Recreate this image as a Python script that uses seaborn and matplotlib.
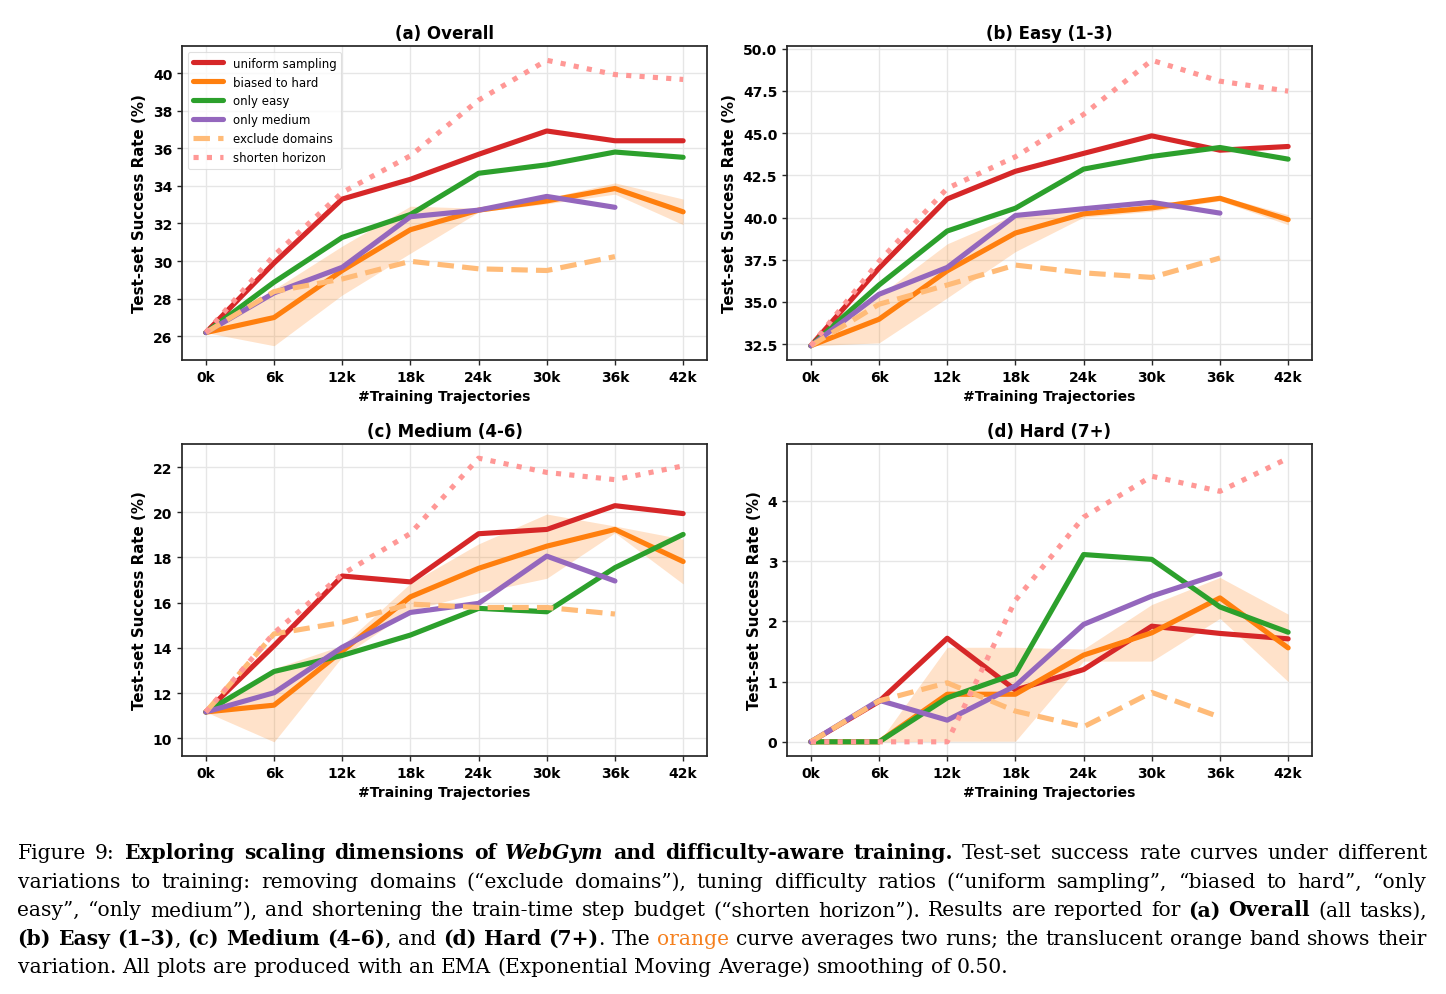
import numpy as np
import pandas as pd
import matplotlib
matplotlib.use("Agg")
import matplotlib.pyplot as plt
import seaborn as sns
from matplotlib.lines import Line2D
from matplotlib.ticker import MultipleLocator, FormatStrFormatter

# ---------------- data ----------------
steps = [0, 6, 12, 18, 24, 30, 36, 42]
step_labels = ["0k", "6k", "12k", "18k", "24k", "30k", "36k", "42k"]
methods = ["uniform sampling", "biased to hard", "only easy", "only medium",
           "exclude domains", "shorten horizon"]
method_colors = ["#d62728", "#ff7f0e", "#2ca02c", "#9467bd", "#ffbb78", "#ff9896"]

# (a) Overall
overall_uniform = [26.2, 29.9, 33.3, 34.35, 35.68, 36.92, 36.4, 36.4]
overall_biased = [26.2, 27.0, 29.5, 31.67, 32.71, 33.2, 33.86, 32.62]
overall_biased_spread = [0.0, 1.5, 1.3, 1.25, 0.1, 0.15, 0.3, 0.68]
overall_easy = [26.2, 28.88, 31.26, 32.48, 34.67, 35.12, 35.8, 35.52]
overall_medium = [26.2, 28.31, 29.67, 32.36, 32.71, 33.44, 32.86]
overall_exclude = [26.2, 28.38, 29.05, 29.99, 29.59, 29.5, 30.24]
overall_shorten = [26.2, 30.3, 33.65, 35.6, 38.56, 40.68, 39.92, 39.66]

# (b) Easy (1-3)
easy_uniform = [32.4, 37.0, 41.1, 42.74, 43.8, 44.84, 43.99, 44.21]
easy_biased = [32.4, 33.97, 36.84, 39.08, 40.22, 40.57, 41.14, 39.87]
easy_biased_spread = [0.0, 1.4, 1.6, 1.1, 0.2, 0.2, 0.15, 0.3]
easy_easy = [32.4, 36.0, 39.2, 40.55, 42.87, 43.62, 44.15, 43.46]
easy_medium = [32.4, 35.45, 37.04, 40.12, 40.52, 40.9, 40.26]
easy_exclude = [32.4, 34.86, 36.0, 37.18, 36.72, 36.45, 37.6]
easy_shorten = [32.4, 37.4, 41.73, 43.6, 46.11, 49.32, 48.08, 47.49]

# (c) Medium (4-6)
medium_uniform = [11.17, 14.1, 17.18, 16.92, 19.05, 19.24, 20.29, 19.94]
medium_biased = [11.17, 11.47, 13.86, 16.26, 17.52, 18.5, 19.24, 17.82]
medium_biased_spread = [0.0, 1.62, 0.25, 0.6, 1.08, 1.42, 0.15, 0.99]
medium_easy = [11.17, 12.96, 13.67, 14.57, 15.75, 15.6, 17.55, 19.02]
medium_medium = [11.17, 12.02, 14.03, 15.57, 15.97, 18.06, 16.96]
medium_exclude = [11.17, 14.62, 15.13, 15.94, 15.79, 15.79, 15.5]
medium_shorten = [11.17, 14.66, 17.26, 19.06, 22.39, 21.76, 21.44, 22.05]

# (d) Hard (7+)
hard_uniform = [0.0, 0.67, 1.72, 0.86, 1.2, 1.92, 1.8, 1.71]
hard_biased = [0.0, 0.0, 0.79, 0.79, 1.44, 1.81, 2.39, 1.56]
hard_biased_spread = [0.0, 0.0, 0.78, 0.78, 0.1, 0.47, 0.34, 0.56]
hard_easy = [0.0, 0.0, 0.73, 1.13, 3.11, 3.03, 2.24, 1.82]
hard_medium = [0.0, 0.69, 0.36, 0.93, 1.95, 2.42, 2.79]
hard_exclude = [0.0, 0.68, 0.98, 0.51, 0.25, 0.82, 0.41]
hard_shorten = [0.0, 0.0, 0.0, 2.35, 3.73, 4.41, 4.16, 4.71]

panel_titles = ["(a) Overall", "(b) Easy (1-3)", "(c) Medium (4-6)", "(d) Hard (7+)"]
x_label = "#Training Trajectories"
y_label = "Test-set Success Rate (%)"

panels = [
    (panel_titles[0], [overall_uniform, overall_biased, overall_easy, overall_medium,
                       overall_exclude, overall_shorten], overall_biased_spread, 2, "%d"),
    (panel_titles[1], [easy_uniform, easy_biased, easy_easy, easy_medium,
                       easy_exclude, easy_shorten], easy_biased_spread, 2.5, "%.1f"),
    (panel_titles[2], [medium_uniform, medium_biased, medium_easy, medium_medium,
                       medium_exclude, medium_shorten], medium_biased_spread, 2, "%d"),
    (panel_titles[3], [hard_uniform, hard_biased, hard_easy, hard_medium,
                       hard_exclude, hard_shorten], hard_biased_spread, 1, "%d"),
]

# ---------------- style ----------------
sns.set_theme(style="whitegrid", rc={
    "axes.edgecolor": "0.15",
    "axes.linewidth": 1.25,
    "grid.color": "0.9",
    "grid.linewidth": 1.0,
    "xtick.bottom": True,
    "ytick.left": True,
    "xtick.major.size": 3.5,
    "ytick.major.size": 3.5,
    "xtick.major.width": 1.0,
    "ytick.major.width": 1.0,
    "xtick.color": "0.15",
    "ytick.color": "0.15",
    "text.color": "black",
    "axes.labelcolor": "black",
})
plt.rcParams["font.family"] = ["DejaVu Sans"]

palette = dict(zip(methods, method_colors))
dash_map = {"uniform sampling": "", "biased to hard": "", "only easy": "",
            "only medium": "", "exclude domains": (3.2, 1.6), "shorten horizon": (1, 1.6)}
LW = 3.7

W, H = 1446, 995
fig = plt.figure(figsize=(W / 100, H / 100), dpi=100)

rects_px = [(182, 47, 707, 361), (787, 47, 1312, 361),
            (182, 445, 707, 757), (787, 445, 1312, 757)]

for (title, series, spread, ystep, yfmt), (l, t, r, b) in zip(panels, rects_px):
    ax = fig.add_axes([l / W, 1 - b / H, (r - l) / W, (b - t) / H])
    rows = []
    for m, vals in zip(methods, series):
        for s, v in zip(steps, vals):
            rows.append({"step": s, "rate": v, "method": m})
    df = pd.DataFrame(rows)
    biased = np.array(series[1])
    sp = np.array(spread)
    ax.fill_between(steps, biased - sp, biased + sp, color="#ff7f0e",
                    alpha=0.22, linewidth=0, zorder=1)
    sns.lineplot(data=df, x="step", y="rate", hue="method", style="method",
                 hue_order=methods, style_order=methods, palette=palette,
                 dashes=dash_map, linewidth=LW, legend=False, ax=ax,
                 errorbar=None, sort=False)
    ax.set_xticks(steps)
    ax.set_xticklabels(step_labels)
    ax.yaxis.set_major_locator(MultipleLocator(ystep))
    ax.yaxis.set_major_formatter(FormatStrFormatter(yfmt))
    for lbl in ax.get_xticklabels() + ax.get_yticklabels():
        lbl.set_fontweight("bold")
        lbl.set_fontsize(10)
        lbl.set_color("black")
    ax.set_title(title, fontsize=12, fontweight="bold", pad=6, color="black")
    ax.set_xlabel(x_label, fontsize=10, fontweight="bold", labelpad=4, color="black")
    ax.set_ylabel(y_label, fontsize=10.8, fontweight="bold", labelpad=4, color="black")
    for sp_ in ax.spines.values():
        sp_.set_visible(True)
        sp_.set_color("0.15")

    if title == panel_titles[0]:
        handles = []
        for m, c in zip(methods, method_colors):
            h = Line2D([0], [0], color=c, linewidth=LW)
            if dash_map[m]:
                h.set_dashes(dash_map[m])
            handles.append(h)
        leg = ax.legend(handles, methods, loc="upper left", fontsize=8.5,
                        handlelength=2.6, frameon=True, fancybox=True)
        leg.get_frame().set_edgecolor("0.85")
        leg.get_frame().set_linewidth(0.8)

# ---------------- caption ----------------
caption_lines = [
    [("Figure 9:", "n"), (" Exploring scaling dimensions of ", "b"), ("WebGym", "bi"),
     (" and difficulty-aware training.", "b"),
     (" Test-set success rate curves under different", "n")],
    [("variations to training: removing domains (\u201cexclude domains\u201d), tuning difficulty ratios "
      "(\u201cuniform sampling\u201d, \u201cbiased to hard\u201d, \u201conly", "n")],
    [("easy\u201d, \u201conly medium\u201d), and shortening the train-time step budget "
      "(\u201cshorten horizon\u201d). Results are reported for ", "n"), ("(a) Overall", "b"),
     (" (all tasks),", "n")],
    [("(b) Easy (1\u20133)", "b"), (", ", "n"), ("(c) Medium (4\u20136)", "b"), (", and ", "n"),
     ("(d) Hard (7+)", "b"), (". The ", "n"), ("orange", "o"),
     (" curve averages two runs; the translucent orange band shows their", "n")],
    [("variation. All plots are produced with an EMA (Exponential Moving Average) "
      "smoothing of 0.50.", "n")],
]
cap_family = "DejaVu Serif"
cap_size_max = 15.5
cap_left, cap_right = 17.5, 1427.0
cap_baselines = [859.5, 888.0, 916.3, 944.6, 973.0]
styles = {
    "n": dict(weight="normal", style="normal", color="black"),
    "b": dict(weight="bold", style="normal", color="black"),
    "bi": dict(weight="bold", style="italic", color="black"),
    "o": dict(weight="normal", style="normal", color="#f5801e"),
}

renderer = fig.canvas.get_renderer()


def make_text(s, st, size):
    kw = styles[st]
    return fig.text(0, 0, s, family=cap_family, fontsize=size,
                    fontweight=kw["weight"], fontstyle=kw["style"],
                    color=kw["color"], ha="left", va="baseline")


def split_words(line):
    words, cur = [], []
    for text, st in line:
        parts = text.split(" ")
        for i, part in enumerate(parts):
            if i > 0 and cur:
                words.append(cur)
                cur = []
            if part:
                cur.append((part, st))
    if cur:
        words.append(cur)
    return words


def space_width(size):
    t1 = make_text("a a", "n", size)
    t2 = make_text("aa", "n", size)
    w = t1.get_window_extent(renderer).width - t2.get_window_extent(renderer).width
    t1.remove()
    t2.remove()
    return w


def measure_words(words, size):
    out = []
    for w in words:
        pieces = []
        ww = 0.0
        for s, st in w:
            tobj = make_text(s, st, size)
            pw = tobj.get_window_extent(renderer).width
            pieces.append((tobj, pw))
            ww += pw
        out.append((pieces, ww))
    return out


# pick a font size so the justified lines fit with sensible spacing
all_words = [split_words(line) for line in caption_lines]
probe = 10.0
sw = space_width(probe)
ratios = []
for words in all_words[:-1]:
    objs = measure_words(words, probe)
    nat = sum(ww for _, ww in objs) + sw * (len(words) - 1)
    ratios.append((cap_right - cap_left) / nat)
    for pieces, _ in objs:
        for tobj, _ in pieces:
            tobj.remove()
cap_size = min(cap_size_max, probe * min(ratios) * 0.995)

sw = space_width(cap_size)
for li, (words, base) in enumerate(zip(all_words, cap_baselines)):
    objs = measure_words(words, cap_size)
    total = sum(ww for _, ww in objs)
    justified = li < len(caption_lines) - 1
    if justified and len(words) > 1:
        gap = (cap_right - cap_left - total) / (len(words) - 1)
    else:
        gap = sw
    x = cap_left
    for pieces, ww in objs:
        px = x
        for tobj, pw in pieces:
            tobj.set_position((px / W, 1 - base / H))
            px += pw
        x += ww + gap

fig.savefig("out.png", dpi=100)
